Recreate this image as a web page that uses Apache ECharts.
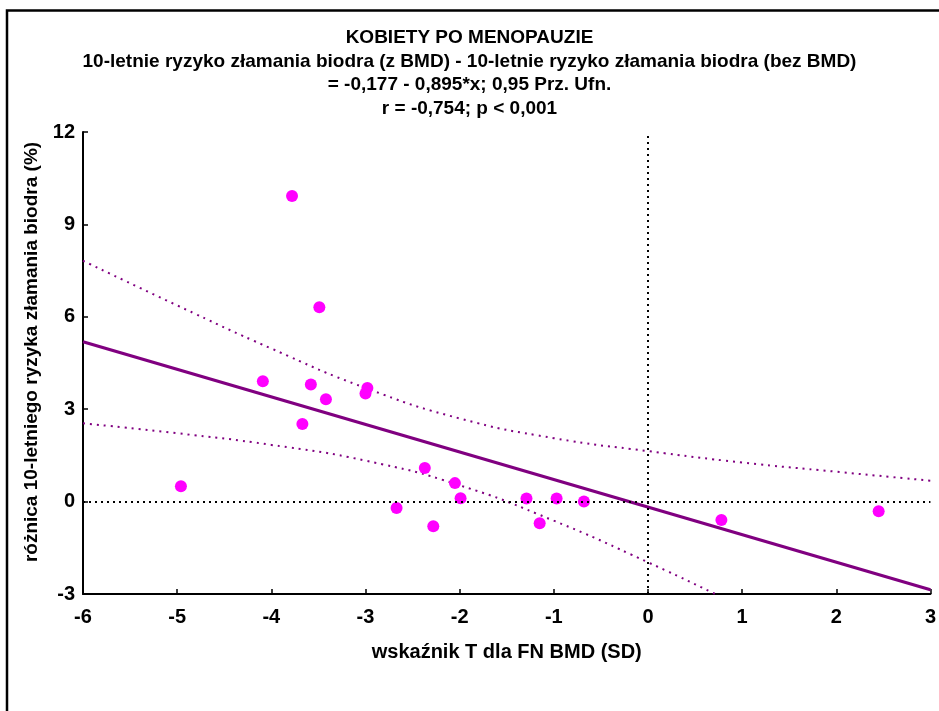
<!DOCTYPE html>
<html>
<head>
<meta charset="utf-8">
<script src="https://cdn.jsdelivr.net/npm/echarts@6/dist/echarts.min.js"></script>
<style>
html,body{margin:0;padding:0;background:#fff;}
#chart{width:939px;height:711px;}
</style>
</head>
<body>
<div id="chart"></div>
<script>
// Observations: T-score (x) and difference in 10-year hip fracture risk (y)
const pointsX = [-4.96, -3.78, -4.09, -3.58, -3.49, -3.42, -3.67, -2.98, -3.00, -2.67, -2.37, -2.28, -2.05, -1.99, -1.29, -1.15, -0.97, -0.68, 0.78, 2.45];
const pointsY = [0.50, 9.92, 3.91, 3.80, 6.31, 3.32, 2.52, 3.69, 3.51, -0.21, 1.09, -0.80, 0.60, 0.11, 0.10, -0.70, 0.10, 0.00, -0.60, -0.31];

// Regression line end points
const fitX = [-6, 3];
const fitY = [5.19, -2.86];

// Confidence band (0.95)
const bandX = [-6, -5, -4, -3, -2, -1, 0, 1, 2, 3];
const upperY = [7.82, 6.37, 4.97, 3.69, 2.70, 2.06, 1.64, 1.27, 0.97, 0.68];
const lowerY = [2.54, 2.22, 1.84, 1.33, 0.53, -0.62, -1.97, -3.42, -4.90, -6.40];

// Axis ticks
const xMin = -6, xMax = 3, xStep = 1;
const yMin = -3, yMax = 12, yStep = 3;

const titleLines = [
  'KOBIETY PO MENOPAUZIE',
  '10-letnie ryzyko złamania biodra (z BMD) - 10-letnie ryzyko złamania biodra (bez BMD)',
  '= -0,177 - 0,895*x; 0,95 Prz. Ufn.',
  'r = -0,754; p < 0,001'
];
const xTitle = 'wskaźnik T dla FN BMD (SD)';
const yTitle = 'różnica 10-letniego ryzyka złamania biodra (%)';

const FONT = '"Liberation Sans", Arial, sans-serif';
const zip = (a, b) => a.map((v, i) => [v, b[i]]);

const chart = echarts.init(document.getElementById('chart'), null, {renderer: 'canvas'});
chart.setOption({
  backgroundColor: '#fff',
  animation: false,
  title: {
    text: titleLines.join('\n'),
    left: 'center',
    top: 26,
    padding: 0,
    textStyle: {fontFamily: FONT, fontSize: 19, fontWeight: 'bold', color: '#000', lineHeight: 23.7}
  },
  grid: {left: 83, right: 6, top: 132, bottom: 117, containLabel: false},
  xAxis: {
    type: 'value', min: xMin, max: xMax, interval: xStep,
    name: xTitle, nameLocation: 'middle', nameGap: 48,
    nameTextStyle: {fontFamily: FONT, fontSize: 20, fontWeight: 'bold', color: '#000'},
    axisLine: {show: true, onZero: false, lineStyle: {color: '#000', width: 2}},
    axisTick: {show: true, inside: true, length: 5, lineStyle: {color: '#000', width: 1.5}},
    axisLabel: {fontFamily: FONT, fontSize: 20, fontWeight: 'bold', color: '#000', margin: 13},
    splitLine: {show: false}
  },
  yAxis: {
    type: 'value', min: yMin, max: yMax, interval: yStep,
    name: yTitle, nameLocation: 'middle', nameGap: 42,
    nameTextStyle: {fontFamily: FONT, fontSize: 19, fontWeight: 'bold', color: '#000', padding: [0, 0, 0, 22]},
    axisLine: {show: true, onZero: false, lineStyle: {color: '#000', width: 2}},
    axisTick: {show: true, inside: true, length: 5, lineStyle: {color: '#000', width: 1.5}},
    axisLabel: {fontFamily: FONT, fontSize: 20, fontWeight: 'bold', color: '#000', margin: 8},
    splitLine: {show: false}
  },
  series: [
    {
      type: 'line', data: zip(bandX, upperY), smooth: true, symbol: 'none', clip: true,
      lineStyle: {color: '#800080', width: 2, type: [2, 5]}, z: 2
    },
    {
      type: 'line', data: zip(bandX, lowerY), smooth: true, symbol: 'none', clip: true,
      lineStyle: {color: '#800080', width: 2, type: [2, 5]}, z: 2
    },
    {
      type: 'line', data: zip(fitX, fitY), symbol: 'none', clip: true,
      lineStyle: {color: '#800080', width: 3.2}, z: 3,
      markLine: {
        silent: true, symbol: 'none', label: {show: false},
        lineStyle: {color: '#000', width: 2, type: [2, 4]},
        data: [{yAxis: 0}, {xAxis: 0}]
      }
    },
    {
      type: 'scatter', data: zip(pointsX, pointsY), symbol: 'circle', symbolSize: 12,
      itemStyle: {color: '#FF00FF', opacity: 1}, z: 4
    }
  ],
  graphic: [{
    type: 'polyline', silent: true,
    shape: {points: [[7, 711], [7, 10.5], [939, 10.5]]},
    style: {stroke: '#000', lineWidth: 2.5, fill: null}
  }]
});
</script>
</body>
</html>
